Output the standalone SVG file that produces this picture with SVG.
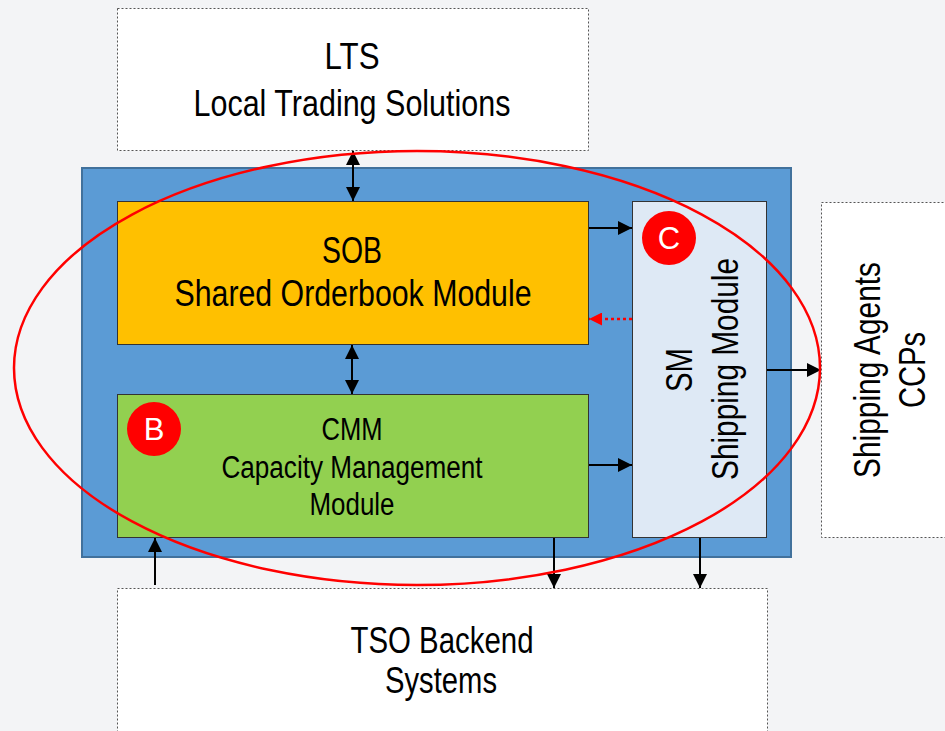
<svg xmlns="http://www.w3.org/2000/svg" width="945" height="731" viewBox="0 0 945 731">
<defs>
<style>
text{font-family:"Liberation Sans Narrow","Liberation Sans",Arial,sans-serif;fill:#000;text-anchor:middle}
.dash{fill:#fff;stroke:#555;stroke-width:1;stroke-dasharray:2 2}
.mod{stroke:#333;stroke-width:1}
.big{font-size:36px}
.mid{font-size:31px}
.badge{fill:#ff0000}
.bt{fill:#fff;font-size:31px}
.c{fill:none;stroke:#000;stroke-width:2}
.cr{fill:none;stroke:#ff0000;stroke-width:2.5;stroke-dasharray:3 3}
</style>
<marker id="ah" viewBox="0 0 10 10" refX="10" refY="5" markerWidth="15" markerHeight="14" orient="auto-start-reverse" markerUnits="userSpaceOnUse">
<path d="M0,0 L10,5 L0,10 z" fill="#000"/>
</marker>
<marker id="ahr" viewBox="0 0 10 10" refX="10" refY="5" markerWidth="14" markerHeight="13" orient="auto-start-reverse" markerUnits="userSpaceOnUse">
<path d="M0,0 L10,5 L0,10 z" fill="#ff0000"/>
</marker>
</defs>
<rect x="0" y="0" width="945" height="731" fill="#f3f4f6"/>

<g id="lts">
<rect class="dash" x="117.5" y="8.5" width="471" height="142"/>
<text class="big" x="352" y="69" textLength="55" lengthAdjust="spacingAndGlyphs">LTS</text>
<text class="big" x="352" y="116" textLength="317" lengthAdjust="spacingAndGlyphs">Local Trading Solutions</text>
</g>

<g id="container">
<rect x="82" y="168" width="709" height="389" fill="#5b9bd5" stroke="#41719c" stroke-width="2"/>
</g>

<g id="sob">
<rect class="mod" x="117.5" y="201.5" width="471" height="143" fill="#ffc000"/>
<text class="big" x="352" y="263" textLength="60" lengthAdjust="spacingAndGlyphs">SOB</text>
<text class="big" x="353" y="306" textLength="357" lengthAdjust="spacingAndGlyphs">Shared Orderbook Module</text>
</g>

<g id="cmm">
<rect class="mod" x="117.5" y="394.5" width="471" height="143" fill="#92d050"/>
<text class="mid" x="352" y="440" textLength="61" lengthAdjust="spacingAndGlyphs">CMM</text>
<text class="mid" x="352" y="478" textLength="261" lengthAdjust="spacingAndGlyphs">Capacity Management</text>
<text class="mid" x="352" y="515" textLength="85" lengthAdjust="spacingAndGlyphs">Module</text>
</g>

<g id="badgeB">
<circle class="badge" cx="154" cy="429" r="27"/>
<text class="bt" x="154" y="440">B</text>
</g>

<g id="sm">
<rect class="mod" x="632.5" y="201.5" width="134" height="336" fill="#dee9f5"/>
<text class="big" transform="translate(692,370) rotate(-90)" x="0" y="0" textLength="44" lengthAdjust="spacingAndGlyphs">SM</text>
<text class="big" transform="translate(738,369) rotate(-90)" x="0" y="0" textLength="222" lengthAdjust="spacingAndGlyphs">Shipping Module</text>
</g>

<g id="badgeC">
<circle class="badge" cx="669" cy="238" r="27"/>
<text class="bt" x="669" y="249">C</text>
</g>

<g id="shipping">
<rect class="dash" x="821.5" y="202.5" width="135" height="335"/>
<text class="big" transform="translate(880,370) rotate(-90)" x="0" y="0" textLength="216" lengthAdjust="spacingAndGlyphs">Shipping Agents</text>
<text class="big" transform="translate(925,370) rotate(-90)" x="0" y="0" textLength="76" lengthAdjust="spacingAndGlyphs">CCPs</text>
</g>

<g id="tso">
<rect class="dash" x="117.5" y="588.5" width="650" height="150"/>
<text class="big" x="442" y="653" textLength="183" lengthAdjust="spacingAndGlyphs">TSO Backend</text>
<text class="big" x="441" y="693" textLength="112" lengthAdjust="spacingAndGlyphs">Systems</text>
</g>

<g id="connectors">
<line class="c" x1="353" y1="151" x2="353" y2="201" marker-start="url(#ah)" marker-end="url(#ah)"/>
<line class="c" x1="352" y1="345" x2="352" y2="394" marker-start="url(#ah)" marker-end="url(#ah)"/>
<line class="c" x1="589" y1="228" x2="632" y2="228" marker-end="url(#ah)"/>
<line class="cr" x1="632" y1="319" x2="589" y2="319" marker-end="url(#ahr)"/>
<line class="c" x1="589" y1="465" x2="632" y2="465" marker-end="url(#ah)"/>
<line class="c" x1="767" y1="370" x2="821" y2="370" marker-end="url(#ah)"/>
<line class="c" x1="554" y1="538" x2="554" y2="588" marker-end="url(#ah)"/>
<line class="c" x1="700" y1="538" x2="700" y2="588" marker-end="url(#ah)"/>
<line class="c" x1="155" y1="585" x2="155" y2="538" marker-end="url(#ah)"/>
</g>

<g id="highlight">
<ellipse cx="417" cy="368" rx="403" ry="217" fill="none" stroke="#ff0000" stroke-width="2.5"/>
</g>
</svg>
